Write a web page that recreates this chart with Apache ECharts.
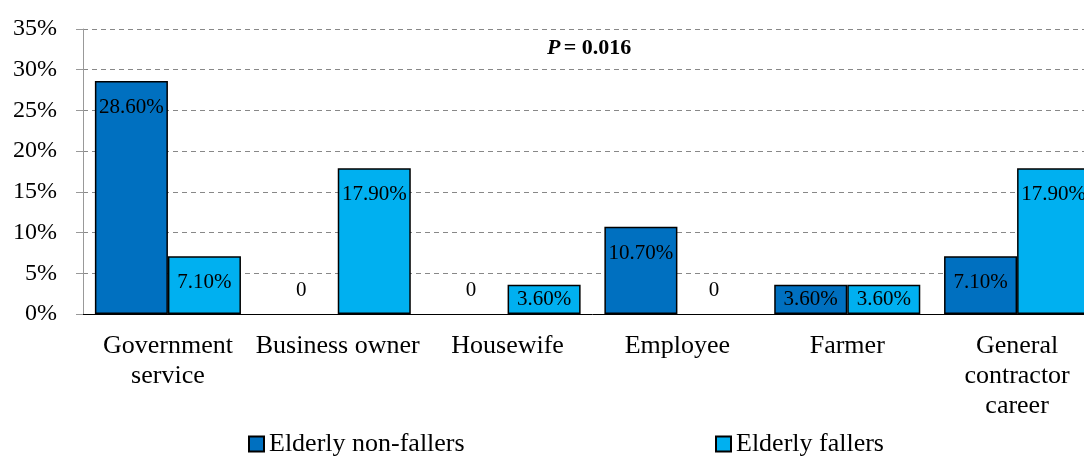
<!DOCTYPE html>
<html>
<head>
<meta charset="utf-8">
<script src="https://cdn.jsdelivr.net/npm/echarts@6/dist/echarts.min.js"></script>
<style>
  html, body { margin: 0; padding: 0; background: #fff; overflow: hidden; }
  #wrap { width: 1084px; height: 456px; overflow: hidden; }
  #chart { width: 1102px; height: 456px; }
</style>
</head>
<body>
<div id="wrap"><div id="chart"></div></div>
<script>
// Occupation of elderly fallers vs non-fallers (percent)
const categories = ['Government\nservice', 'Business owner', 'Housewife', 'Employee', 'Farmer', 'General\ncontractor\ncareer'];
const nonFallers = [28.6, 0, 0, 10.7, 3.6, 7.1];
const fallers = [7.1, 17.9, 3.6, 0, 3.6, 17.9];
const yTicks = [0, 5, 10, 15, 20, 25, 30, 35];
const seriesNames = ['Elderly non-fallers', 'Elderly fallers'];
const pValue = '0.016';

const FONT = '"Liberation Serif", "Times New Roman", serif';

// Zero bars get no outline and a label above the baseline;
// short bars get their label centred inside.
function toItems(values) {
  return values.map(v => {
    if (v === 0) {
      return { value: v, itemStyle: { borderWidth: 0 }, label: { position: 'top', distance: 13 } };
    }
    if (v < 5) {
      return { value: v, label: { position: 'inside' } };
    }
    return { value: v };
  });
}

function fmtLabel(p) {
  return p.value === 0 ? '0' : p.value.toFixed(2) + '%';
}

const barLabel = {
  show: true,
  position: 'insideTop',
  distance: 16,
  color: '#000',
  fontFamily: FONT,
  fontSize: 21,
  formatter: fmtLabel
};

const legendBase = {
  top: 431,
  padding: 0,
  itemWidth: 15, itemHeight: 15,
  icon: 'rect',
  textStyle: { color: '#000', fontFamily: FONT, fontSize: 26 }
};

const chart = echarts.init(document.getElementById('chart'), null, { renderer: 'canvas' });
chart.setOption({
  animation: false,
  backgroundColor: '#fff',
  grid: { left: 83, right: 0, top: 29, bottom: 142, containLabel: false },
  xAxis: {
    type: 'category',
    data: categories,
    axisLine: { lineStyle: { color: '#000', width: 1 } },
    axisTick: { show: false },
    axisLabel: {
      color: '#000', fontFamily: FONT, fontSize: 26, lineHeight: 30,
      margin: 17, interval: 0
    }
  },
  yAxis: {
    type: 'value',
    min: yTicks[0],
    max: yTicks[yTicks.length - 1],
    interval: 5,
    axisLine: { show: true, lineStyle: { color: '#999', width: 1 } },
    axisTick: { show: true, length: 7, lineStyle: { color: '#999' } },
    axisLabel: {
      color: '#000', fontFamily: FONT, fontSize: 24, margin: 26,
      formatter: '{value}%'
    },
    splitLine: { lineStyle: { color: '#888', type: [5, 4], width: 1 } }
  },
  legend: [
    Object.assign({ data: [seriesNames[0]], left: 248 }, legendBase),
    Object.assign({ data: [seriesNames[1]], left: 715 }, legendBase)
  ],
  graphic: [
    {
      type: 'text',
      left: 547, top: 37,
      style: {
        text: '{i|P} {b|= ' + pValue + '}',
        rich: {
          i: { fontFamily: FONT, fontSize: 22, fontWeight: 'bold', fontStyle: 'italic', fill: '#000' },
          b: { fontFamily: FONT, fontSize: 22, fontWeight: 'bold', fill: '#000' }
        }
      }
    }
  ],
  series: [
    {
      name: seriesNames[0], type: 'bar', data: toItems(nonFallers),
      barGap: '0%', barCategoryGap: '14%',
      itemStyle: { color: '#0070C0', borderColor: '#000', borderWidth: 1.5 },
      label: barLabel
    },
    {
      name: seriesNames[1], type: 'bar', data: toItems(fallers),
      barGap: '0%', barCategoryGap: '14%',
      itemStyle: { color: '#00B0F0', borderColor: '#000', borderWidth: 1.5 },
      label: barLabel
    }
  ]
});
</script>
</body>
</html>
